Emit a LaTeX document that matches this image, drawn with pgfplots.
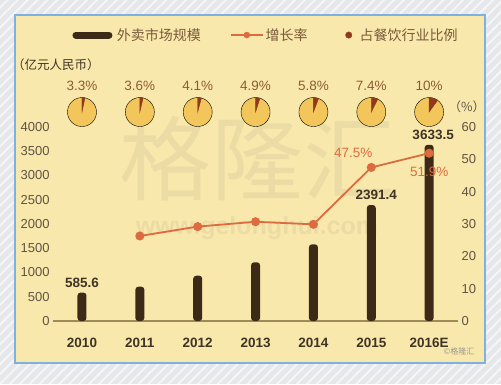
\documentclass[border=0pt]{standalone}
\usepackage{pgfplots}
\pgfplotsset{compat=1.18}
\usepackage{pgfplotstable}
\usetikzlibrary{patterns.meta}
\usepackage{fontspec}
\setmainfont{Liberation Sans}
\newfontfamily\cjk{Noto Sans CJK SC}
\definecolor{bgout}{HTML}{E6E7EA}
\definecolor{framec}{HTML}{7DB1E2}
\definecolor{panel}{HTML}{F9E8AB}
\definecolor{barc}{HTML}{3D2A16}
\definecolor{linec}{HTML}{DC6B3F}
\definecolor{piec}{HTML}{F3C65B}
\definecolor{wedgec}{HTML}{8E3A1C}
\definecolor{piet}{HTML}{8E5A33}
\definecolor{legt}{HTML}{7A5A3C}
\definecolor{ytc}{HTML}{5E5444}
\definecolor{xtc}{HTML}{3F3424}
\definecolor{basec}{HTML}{A08A55}
\definecolor{wmark}{HTML}{EBDCA6}

\pgfplotstableread{
x  y
0  585.6
1  707
2  934
3  1210
4  1581
5  2391.4
6  3633.5
}\marketsize

\pgfplotstableread{
x  y
1  26.3
2  29.2
3  30.7
4  29.9
5  47.5
6  51.9
}\growth

\pgfplotstableread{
x  y     s    lab
0  4309  3.3  3.3\%
1  4309  3.6  3.6\%
2  4309  4.1  4.1\%
3  4309  4.9  4.9\%
4  4309  5.8  5.8\%
5  4309  7.4  7.4\%
6  4309  10   10\%
}\share

\pgfplotstableread{
x  y       dx   lab
0  585.6   0    585.6
5  2391.4  5    2391.4
6  3633.5  4    3633.5
}\barlabels

\pgfplotstableread{
x  y     dx   dy    lab
5  47.5  -18  15    47.5\%
6  51.9  0    -19   51.9\%
}\linelabels

\begin{document}
\begin{tikzpicture}
\fill[bgout] (0pt,0pt) rectangle (501pt,384pt);
\fill[pattern={Lines[angle=45,distance=7pt,line width=2pt]}, pattern color=white, opacity=0.6] (0pt,0pt) rectangle (501pt,384pt);
\fill[panel] (15pt,21pt) rectangle (485pt,369pt);
\draw[framec, line width=1.6pt] (15pt,21pt) rectangle (485pt,369pt);
% watermark
\node[text=wmark, inner sep=0pt] at (257pt,226pt) {\cjk\fontsize{92}{92}\selectfont 格隆汇};
\node[text=wmark, inner sep=0pt] at (257pt,156pt) {\bfseries\fontsize{25}{25}\selectfont www.gelonghui.com};
\node[text=ytc!60, inner sep=0pt] at (459pt,33pt) {\cjk\fontsize{8}{8}\selectfont ©格隆汇};
% unit label
\node[text=xtc, inner sep=0pt] at (56pt,319pt) {\cjk\fontsize{12.5}{13}\selectfont （亿元人民币）};

\begin{scope}[shift={(82pt,63pt)}]
\begin{axis}[
  at={(0pt,0pt)}, anchor=origin, scale only axis,
  width=405pt, height=194pt,
  xmin=-0.5, xmax=6.5, ymin=0, ymax=4000,
  axis x line*=bottom, axis y line*=left,
  x axis line style={basec, line width=1.2pt, -},
  y axis line style={draw=none},
  xtick={0,...,6}, xticklabels={2010,2011,2012,2013,2014,2015,2016E},
  ytick={0,500,...,4000},
  major tick length=0pt, tick style={draw=none},
  /pgf/number format/assume math mode=true,
  /pgf/number format/1000 sep={},
  xticklabel style={font=\bfseries\fontsize{13.5}{14}\selectfont, text=xtc, yshift=-14pt},
  yticklabel style={font=\fontsize{13}{14}\selectfont, text=ytc},
  clip=false,
  legend columns=3,
  legend style={at={(axis description cs:0.526,1.474)}, anchor=center, draw=none, fill=none,
     font=\cjk\fontsize{14}{15}\selectfont, text=legt,
     /tikz/every even column/.append style={column sep=27pt}},
  legend cell align=left,
]
\addlegendimage{legend image code/.code={\draw[barc, line width=7pt, line cap=round] (0pt,0pt) -- (33pt,0pt); \path[draw=none, fill=none] (-3.5pt,0pt) -- (39pt,0pt);}}
\addlegendentry{外卖市场规模}
\addlegendimage{legend image code/.code={\draw[linec, line width=1.8pt] (0pt,0pt) -- (32pt,0pt); \fill[linec] (16pt,0pt) circle[radius=3pt];}}
\addlegendentry{增长率}
\addlegendimage{legend image code/.code={\fill[wedgec] (0pt,0pt) circle[radius=3.2pt]; \path[draw=none, fill=none] (-12pt,0pt) -- (9pt,0pt);}}
\addlegendentry{占餐饮行业比例}

\addplot[forget plot, ybar, bar width=9pt, fill=barc, draw=none, rounded corners=3pt] table[x=x, y=y] {\marketsize};

\addplot[forget plot, only marks, mark=none, nodes near coords, point meta=explicit symbolic,
  visualization depends on={\thisrow{dx} \as \dx},
  every node near coord/.style={anchor=south, inner sep=0pt, yshift=5pt, xshift=\dx pt,
     font=\bfseries\fontsize{13.5}{14}\selectfont, text=xtc}]
  table[x=x, y=y, meta=lab] {\barlabels};

\addplot[forget plot, scatter, only marks, mark=*, mark size=14.5pt,
  mark options={draw=none, fill=piec},
  visualization depends on={\thisrow{s} \as \sh},
  scatter/@pre marker code/.code={},
  scatter/@post marker code/.code={\fill[wedgec] (0pt,0pt) -- (0pt,14.5pt) arc[start angle=90, end angle={90-3.6*\sh}, radius=14.5pt] -- cycle;}]
  table[x=x, y=y] {\share};

\addplot[forget plot, only marks, mark=none, nodes near coords, point meta=explicit symbolic,
  every node near coord/.style={anchor=center, inner sep=0pt, yshift=26pt,
     font=\fontsize{13.5}{14}\selectfont, text=piet}]
  table[x=x, y=y, meta=lab] {\share};
\end{axis}

\begin{axis}[
  at={(0pt,0pt)}, anchor=origin, scale only axis,
  width=405pt, height=194pt,
  xmin=-0.5, xmax=6.5, ymin=0, ymax=60,
  axis x line=none, axis y line*=right,
  y axis line style={draw=none},
  ytick={0,10,...,60},
  major tick length=0pt, tick style={draw=none},
  /pgf/number format/assume math mode=true,
  yticklabel style={font=\fontsize{13}{14}\selectfont, text=ytc},
  clip=false,
]
\addplot[linec, line width=1.8pt, mark=*, mark size=3.6pt, mark options={fill=linec, draw=linec}] table[x=x, y=y] {\growth};
\addplot[only marks, mark=none, nodes near coords, point meta=explicit symbolic,
  visualization depends on={\thisrow{dx} \as \dx},
  visualization depends on={\thisrow{dy} \as \dy},
  every node near coord/.style={anchor=center, inner sep=0pt, xshift=\dx pt, yshift=\dy pt,
     font=\fontsize{13.5}{14}\selectfont, text=linec}]
  table[x=x, y=y, meta=lab] {\linelabels};
\node[text=ytc, inner sep=0pt] at (rel axis cs:1.022,1.103) {\cjk\fontsize{12.5}{13}\selectfont （\%）};
\end{axis}
\end{scope}
\pgfresetboundingbox
\useasboundingbox (0pt,0pt) rectangle (501pt,384pt);
\end{tikzpicture}
\end{document}
